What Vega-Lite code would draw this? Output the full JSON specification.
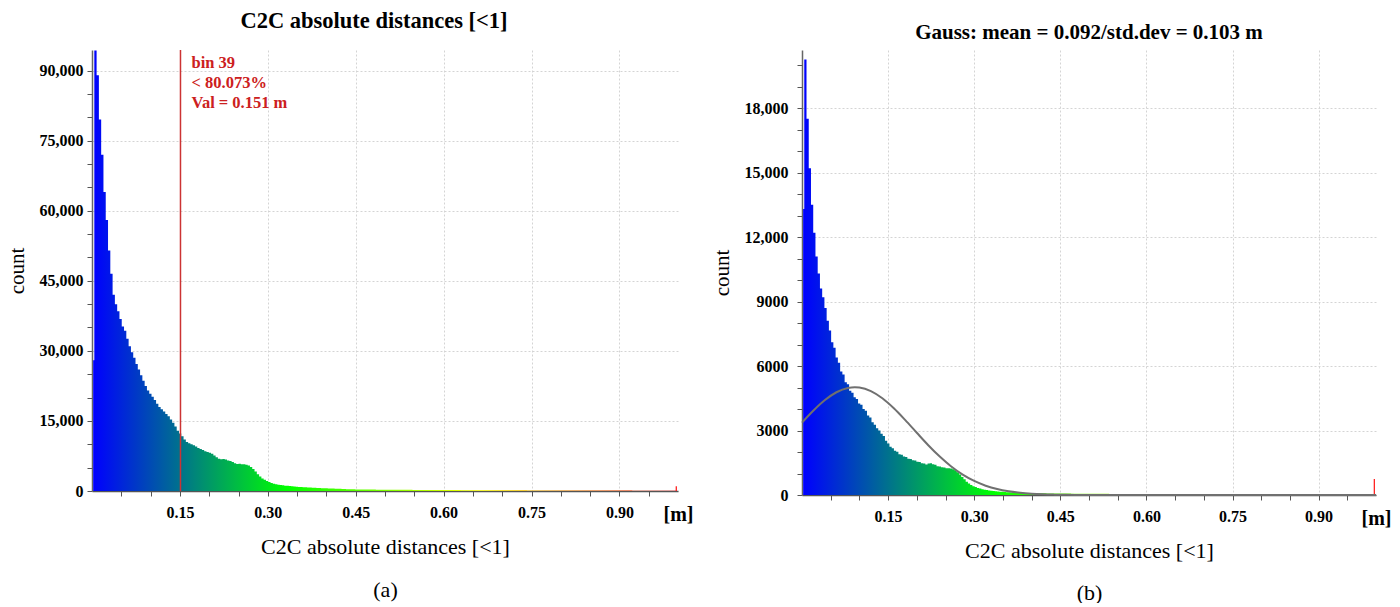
{
 "$schema": "https://vega.github.io/schema/vega-lite/v6.json",
 "background": "white",
 "padding": {"left": 6, "top": 9, "right": 5, "bottom": 0},
 "spacing": 18,
 "config": {
  "view": {"stroke": null},
  "axis": {"labelFont": "Liberation Serif", "titleFont": "Liberation Serif", "labelColor": "#000", "titleColor": "#000", "labelOverlap": false},
  "title": {"font": "Liberation Serif", "color": "#000"},
  "text": {"font": "Liberation Serif"}
 },
 "datasets": {
  "hist": [
   {"x":0.0020,"a":28000,"b":13300},{"x":0.0059,"a":94300,"b":20260},{"x":0.0098,"a":89000,"b":17500},{"x":0.0137,"a":79500,"b":15200},{"x":0.0176,"a":72000,"b":13500},{"x":0.0215,"a":64000,"b":12200},{"x":0.0254,"a":58000,"b":11100},{"x":0.0293,"a":51500,"b":10300},{"x":0.0332,"a":46500,"b":9600},{"x":0.0371,"a":42000,"b":9200},{"x":0.0410,"a":40000,"b":8700},{"x":0.0449,"a":38500,"b":8100},{"x":0.0488,"a":36800,"b":7650},{"x":0.0527,"a":35200,"b":7100},{"x":0.0566,"a":34300,"b":6850},{"x":0.0605,"a":32600,"b":6400},{"x":0.0645,"a":31000,"b":6150},{"x":0.0684,"a":29700,"b":5750},{"x":0.0723,"a":28500,"b":5600},{"x":0.0762,"a":27200,"b":5250},{"x":0.0801,"a":26000,"b":5150},{"x":0.0840,"a":24800,"b":4850},{"x":0.0879,"a":23600,"b":4760},{"x":0.0918,"a":22500,"b":4550},{"x":0.0957,"a":21500,"b":4460},{"x":0.0996,"a":20800,"b":4260},{"x":0.1035,"a":20200,"b":4200},{"x":0.1074,"a":19500,"b":4000},{"x":0.1113,"a":18700,"b":3920},{"x":0.1152,"a":18000,"b":3700},{"x":0.1191,"a":17500,"b":3600},{"x":0.1230,"a":17000,"b":3380},
   {"x":0.1270,"a":16500,"b":3270},{"x":0.1309,"a":16000,"b":3100},{"x":0.1348,"a":15300,"b":3000},{"x":0.1387,"a":14600,"b":2850},{"x":0.1426,"a":13800,"b":2740},{"x":0.1465,"a":12900,"b":2520},{"x":0.1504,"a":12300,"b":2400},{"x":0.1543,"a":11700,"b":2240},{"x":0.1582,"a":11000,"b":2180},{"x":0.1621,"a":10500,"b":2060},{"x":0.1660,"a":10200,"b":2010},{"x":0.1699,"a":10000,"b":1900},{"x":0.1738,"a":9800,"b":1870},{"x":0.1777,"a":9500,"b":1790},{"x":0.1816,"a":9200,"b":1770},{"x":0.1855,"a":9000,"b":1690},{"x":0.1895,"a":8800,"b":1670},{"x":0.1934,"a":8500,"b":1620},{"x":0.1973,"a":8350,"b":1600},{"x":0.2012,"a":8200,"b":1550},{"x":0.2051,"a":8000,"b":1530},{"x":0.2090,"a":7600,"b":1480},{"x":0.2129,"a":7200,"b":1470},{"x":0.2168,"a":6900,"b":1420},{"x":0.2207,"a":6800,"b":1460},{"x":0.2246,"a":6850,"b":1480},{"x":0.2285,"a":6750,"b":1430},{"x":0.2324,"a":6550,"b":1410},{"x":0.2363,"a":6400,"b":1340},{"x":0.2402,"a":6200,"b":1330},{"x":0.2441,"a":5950,"b":1290},{"x":0.2480,"a":5800,"b":1280},
   {"x":0.2520,"a":5850,"b":1250},{"x":0.2559,"a":5750,"b":1240},{"x":0.2598,"a":5700,"b":1230},{"x":0.2637,"a":5600,"b":1200},{"x":0.2676,"a":5450,"b":1150},{"x":0.2715,"a":5150,"b":1060},{"x":0.2754,"a":4700,"b":950},{"x":0.2793,"a":4200,"b":840},{"x":0.2832,"a":3600,"b":730},{"x":0.2871,"a":3100,"b":620},{"x":0.2910,"a":2700,"b":540},{"x":0.2949,"a":2400,"b":470},{"x":0.2988,"a":2150,"b":410},{"x":0.3027,"a":1900,"b":370},{"x":0.3066,"a":1700,"b":330},{"x":0.3105,"a":1550,"b":300},{"x":0.3145,"a":1430,"b":270},{"x":0.3184,"a":1350,"b":250},{"x":0.3223,"a":1280,"b":230},{"x":0.3262,"a":1220,"b":215},{"x":0.3301,"a":1150,"b":200},{"x":0.3340,"a":1100,"b":185},{"x":0.3379,"a":1050,"b":175},{"x":0.3418,"a":1000,"b":165},{"x":0.3457,"a":960,"b":155},{"x":0.3496,"a":920,"b":146},{"x":0.3535,"a":880,"b":138},{"x":0.3574,"a":850,"b":130},{"x":0.3613,"a":820,"b":124},{"x":0.3652,"a":790,"b":118},{"x":0.3691,"a":760,"b":113},{"x":0.3730,"a":730,"b":108},
   {"x":0.3770,"a":700,"b":103},{"x":0.3809,"a":670,"b":99},{"x":0.3848,"a":650,"b":95},{"x":0.3887,"a":630,"b":92},{"x":0.3926,"a":610,"b":90},{"x":0.3965,"a":590,"b":88},{"x":0.4004,"a":570,"b":86},{"x":0.4043,"a":550,"b":84},{"x":0.4082,"a":530,"b":82},{"x":0.4121,"a":515,"b":80},{"x":0.4160,"a":500,"b":79},{"x":0.4199,"a":480,"b":78},{"x":0.4238,"a":460,"b":76},{"x":0.4277,"a":440,"b":75},{"x":0.4316,"a":420,"b":74},{"x":0.4355,"a":400,"b":72},{"x":0.4395,"a":380,"b":71},{"x":0.4434,"a":360,"b":70},{"x":0.4473,"a":350,"b":69},{"x":0.4512,"a":340,"b":68},{"x":0.4551,"a":335,"b":67},{"x":0.4590,"a":330,"b":66},{"x":0.4629,"a":322,"b":65},{"x":0.4668,"a":315,"b":64},{"x":0.4707,"a":310,"b":63},{"x":0.4746,"a":305,"b":62},{"x":0.4785,"a":300,"b":61},{"x":0.4824,"a":296,"b":60},{"x":0.4863,"a":292,"b":60},{"x":0.4902,"a":288,"b":59},{"x":0.4941,"a":284,"b":58},{"x":0.4980,"a":280,"b":57},
   {"x":0.5020,"a":276,"b":57},{"x":0.5059,"a":273,"b":56},{"x":0.5098,"a":270,"b":56},{"x":0.5137,"a":266,"b":55},{"x":0.5176,"a":263,"b":55},{"x":0.5215,"a":260,"b":54},{"x":0.5254,"a":257,"b":54},{"x":0.5293,"a":254,"b":53},{"x":0.5332,"a":251,"b":53},{"x":0.5371,"a":248,"b":52},{"x":0.5410,"a":245,"b":52},{"x":0.5449,"a":242,"b":51},{"x":0.5488,"a":239,"b":51},{"x":0.5527,"a":236,"b":50},{"x":0.5566,"a":233,"b":50},{"x":0.5605,"a":230,"b":49},{"x":0.5645,"a":228,"b":49},{"x":0.5684,"a":225,"b":48},{"x":0.5723,"a":222,"b":48},{"x":0.5762,"a":220,"b":47},{"x":0.5801,"a":217,"b":47},{"x":0.5840,"a":214,"b":46},{"x":0.5879,"a":212,"b":46},{"x":0.5918,"a":209,"b":45},{"x":0.5957,"a":207,"b":45},{"x":0.5996,"a":204,"b":44},{"x":0.6035,"a":202,"b":44},{"x":0.6074,"a":199,"b":44},{"x":0.6113,"a":197,"b":43},{"x":0.6152,"a":195,"b":43},{"x":0.6191,"a":192,"b":42},{"x":0.6230,"a":190,"b":42},
   {"x":0.6270,"a":188,"b":42},{"x":0.6309,"a":186,"b":41},{"x":0.6348,"a":184,"b":41},{"x":0.6387,"a":182,"b":40},{"x":0.6426,"a":180,"b":40},{"x":0.6465,"a":178,"b":40},{"x":0.6504,"a":176,"b":39},{"x":0.6543,"a":174,"b":39},{"x":0.6582,"a":172,"b":38},{"x":0.6621,"a":170,"b":38},{"x":0.6660,"a":168,"b":38},{"x":0.6699,"a":166,"b":37},{"x":0.6738,"a":164,"b":37},{"x":0.6777,"a":162,"b":36},{"x":0.6816,"a":160,"b":36},{"x":0.6855,"a":158,"b":36},{"x":0.6895,"a":156,"b":35},{"x":0.6934,"a":154,"b":35},{"x":0.6973,"a":152,"b":35},{"x":0.7012,"a":150,"b":34},{"x":0.7051,"a":149,"b":34},{"x":0.7090,"a":147,"b":34},{"x":0.7129,"a":146,"b":33},{"x":0.7168,"a":144,"b":33},{"x":0.7207,"a":142,"b":33},{"x":0.7246,"a":141,"b":32},{"x":0.7285,"a":139,"b":32},{"x":0.7324,"a":138,"b":32},{"x":0.7363,"a":136,"b":31},{"x":0.7402,"a":135,"b":31},{"x":0.7441,"a":133,"b":31},{"x":0.7480,"a":132,"b":30},
   {"x":0.7520,"a":130,"b":30},{"x":0.7559,"a":129,"b":30},{"x":0.7598,"a":128,"b":30},{"x":0.7637,"a":126,"b":29},{"x":0.7676,"a":125,"b":29},{"x":0.7715,"a":124,"b":29},{"x":0.7754,"a":122,"b":28},{"x":0.7793,"a":121,"b":28},{"x":0.7832,"a":120,"b":28},{"x":0.7871,"a":118,"b":28},{"x":0.7910,"a":117,"b":27},{"x":0.7949,"a":116,"b":27},{"x":0.7988,"a":115,"b":27},{"x":0.8027,"a":113,"b":27},{"x":0.8066,"a":112,"b":26},{"x":0.8105,"a":111,"b":26},{"x":0.8145,"a":110,"b":26},{"x":0.8184,"a":108,"b":26},{"x":0.8223,"a":107,"b":25},{"x":0.8262,"a":106,"b":25},{"x":0.8301,"a":105,"b":25},{"x":0.8340,"a":104,"b":25},{"x":0.8379,"a":103,"b":24},{"x":0.8418,"a":102,"b":24},{"x":0.8457,"a":100,"b":24},{"x":0.8496,"a":99,"b":24},{"x":0.8535,"a":98,"b":23},{"x":0.8574,"a":97,"b":23},{"x":0.8613,"a":96,"b":23},{"x":0.8652,"a":95,"b":23},{"x":0.8691,"a":94,"b":22},{"x":0.8730,"a":93,"b":22},
   {"x":0.8770,"a":92,"b":22},{"x":0.8809,"a":91,"b":22},{"x":0.8848,"a":90,"b":22},{"x":0.8887,"a":89,"b":21},{"x":0.8926,"a":88,"b":21},{"x":0.8965,"a":87,"b":21},{"x":0.9004,"a":86,"b":21},{"x":0.9043,"a":85,"b":21},{"x":0.9082,"a":84,"b":20},{"x":0.9121,"a":83,"b":20},{"x":0.9160,"a":82,"b":20},{"x":0.9199,"a":81,"b":20},{"x":0.9238,"a":80,"b":20},{"x":0.9277,"a":79,"b":19},{"x":0.9316,"a":78,"b":19},{"x":0.9355,"a":77,"b":19},{"x":0.9395,"a":76,"b":19},{"x":0.9434,"a":75,"b":19},{"x":0.9473,"a":74,"b":18},{"x":0.9512,"a":73,"b":18},{"x":0.9551,"a":72,"b":18},{"x":0.9590,"a":71,"b":18},{"x":0.9629,"a":70,"b":18},{"x":0.9668,"a":69,"b":17},{"x":0.9707,"a":68,"b":17},{"x":0.9746,"a":67,"b":17},{"x":0.9785,"a":66,"b":17},{"x":0.9824,"a":65,"b":17},{"x":0.9863,"a":64,"b":16},{"x":0.9902,"a":63,"b":16},{"x":0.9941,"a":62,"b":16},{"x":0.9980,"a":1000,"b":750}
  ],
  "gauss": [
   {"x":0,"y":3366},{"x":0.02,"y":3929},{"x":0.04,"y":4416},{"x":0.06,"y":4780},{"x":0.08,"y":4982},{"x":0.092,"y":5016},{"x":0.10,"y":5001},{"x":0.12,"y":4834},{"x":0.14,"y":4500},{"x":0.16,"y":4034},{"x":0.18,"y":3482},{"x":0.20,"y":2895},{"x":0.22,"y":2317},{"x":0.24,"y":1787},{"x":0.26,"y":1326},{"x":0.28,"y":948},{"x":0.30,"y":653},{"x":0.32,"y":433},{"x":0.34,"y":276},{"x":0.36,"y":170},{"x":0.38,"y":101},{"x":0.40,"y":57},{"x":0.42,"y":31},{"x":0.44,"y":17},{"x":0.46,"y":8},{"x":0.50,"y":2},{"x":0.55,"y":0},{"x":0.6,"y":0},{"x":0.8,"y":0},{"x":1.0,"y":0}
  ],
  "marker": [{"x":0.151}],
  "labels": [
   {"x":0.151,"y":91600,"t":"bin 39"},
   {"x":0.151,"y":87300,"t":"< 80.073%"},
   {"x":0.151,"y":83000,"t":"Val = 0.151 m"}
  ]
 },
 "hconcat": [
  {
   "width": 586,
   "height": 441,
   "title": {"text": "C2C absolute distances [<1]", "fontSize": 22.5, "fontWeight": "bold", "baseline": "middle", "offset": 6, "dx": -11},
   "resolve": {"scale": {"x": "independent", "y": "independent"}},
   "layer": [
    {
     "layer": [
      {
       "data": {"name": "hist"},
       "mark": {"type": "area", "interpolate": "step",
        "fill": {"gradient": "linear", "x1": 0, "x2": 1, "y1": 0, "y2": 0, "stops": [{"offset": 0, "color": "#0000ff"}, {"offset": 0.333, "color": "#00ff00"}, {"offset": 0.667, "color": "#ffff00"}, {"offset": 1, "color": "#ff0000"}]}},
       "encoding": {
        "x": {"field": "x", "type": "quantitative", "scale": {"domain": [0, 1], "nice": false, "zero": false},
         "axis": {
          "orient": "bottom",
          "values": [0.15, 0.3, 0.45, 0.6, 0.75, 0.9, 1],
          "labelExpr": "datum.value > 0.99 ? '[m]' : format(datum.value, '.2f')",
          "labelFlush": false, "labelOverlap": false, "labelBound": false,
          "labelFontSize": {"condition": {"test": "datum.value > 0.99", "value": 20}, "value": 16},
          "labelFontWeight": "bold", "labelPadding": 8,
          "tickSize": 5, "tickColor": "#555", "domainColor": "#555", "domainWidth": 1.5,
          "tickOpacity": {"condition": {"test": "datum.value > 0.99", "value": 0}, "value": 1},
          "grid": true, "gridColor": "#d4d4d4", "gridDash": [2, 2],
          "gridOpacity": {"condition": {"test": "datum.value > 0.99", "value": 0}, "value": 1},
          "title": ["C2C absolute distances [<1]", "(a)"], "titleFontSize": 22, "titleFontWeight": "normal", "titlePadding": 12, "titleLineHeight": 43
         }
        },
        "y": {"field": "a", "type": "quantitative", "scale": {"domain": [0, 94400], "nice": false},
         "axis": {
          "orient": "left",
          "values": [0, 15000, 30000, 45000, 60000, 75000, 90000],
          "labelExpr": "format(datum.value, ',')",
          "labelOverlap": false,
          "labelFontSize": 16, "labelFontWeight": "bold", "labelPadding": 4,
          "tickSize": 5, "tickColor": "#555", "domainColor": "#666", "domainWidth": 1.5,
          "grid": true, "gridColor": "#d4d4d4", "gridDash": [2, 2],
          "title": "count", "titleFontSize": 21, "titleFontWeight": "normal", "titlePadding": 12
         }
        }
       }
      },
      {
       "data": {"name": "marker"},
       "mark": {"type": "rule", "color": "#cc3333", "strokeWidth": 1.5},
       "encoding": {"x": {"field": "x", "type": "quantitative"}}
      },
      {
       "data": {"name": "labels"},
       "mark": {"type": "text", "align": "left", "baseline": "middle", "dx": 11, "fontSize": 16.5, "fontWeight": "bold", "color": "#cc2020"},
       "encoding": {
        "x": {"field": "x", "type": "quantitative"},
        "y": {"field": "y", "type": "quantitative"},
        "text": {"field": "t"}
       }
      }
     ]
    },
    {
     "data": {"name": "labels"},
     "mark": {"type": "point", "opacity": 0},
     "encoding": {
      "x": {"field": "x", "type": "quantitative", "scale": {"domain": [0, 1], "nice": false, "zero": false},
       "axis": {"orient": "bottom", "values": [0.05, 0.1, 0.2, 0.25, 0.35, 0.4, 0.5, 0.55, 0.65, 0.7, 0.8, 0.85, 0.95], "labels": false, "grid": false, "domain": false, "tickSize": 5, "tickColor": "#555", "title": null}},
      "y": {"field": "y", "type": "quantitative", "scale": {"domain": [0, 94400], "nice": false},
       "axis": {"orient": "left", "values": [5000, 10000, 20000, 25000, 35000, 40000, 50000, 55000, 65000, 70000, 80000, 85000], "labels": false, "grid": false, "domain": false, "tickSize": 5, "tickColor": "#555", "title": null}}
     }
    }
   ]
  },
  {
   "width": 574,
   "height": 445,
   "title": {"text": "Gauss: mean = 0.092/std.dev = 0.103 m", "fontSize": 21, "fontWeight": "bold", "baseline": "middle", "offset": -4},
   "resolve": {"scale": {"x": "independent", "y": "independent"}},
   "layer": [
    {
     "layer": [
      {
       "data": {"name": "hist"},
       "mark": {"type": "area", "interpolate": "step",
        "fill": {"gradient": "linear", "x1": 0, "x2": 1, "y1": 0, "y2": 0, "stops": [{"offset": 0, "color": "#0000ff"}, {"offset": 0.333, "color": "#00ff00"}, {"offset": 0.667, "color": "#ffff00"}, {"offset": 1, "color": "#ff0000"}]}},
       "encoding": {
        "x": {"field": "x", "type": "quantitative", "scale": {"domain": [0, 1], "nice": false, "zero": false},
         "axis": {
          "orient": "bottom",
          "values": [0.15, 0.3, 0.45, 0.6, 0.75, 0.9, 1],
          "labelExpr": "datum.value > 0.99 ? '[m]' : format(datum.value, '.2f')",
          "labelFlush": false, "labelOverlap": false, "labelBound": false,
          "labelFontSize": {"condition": {"test": "datum.value > 0.99", "value": 20}, "value": 16},
          "labelFontWeight": "bold", "labelPadding": 8,
          "tickSize": 5, "tickColor": "#555", "domainColor": "#555", "domainWidth": 1.5,
          "tickOpacity": {"condition": {"test": "datum.value > 0.99", "value": 0}, "value": 1},
          "grid": true, "gridColor": "#d4d4d4", "gridDash": [2, 2],
          "gridOpacity": {"condition": {"test": "datum.value > 0.99", "value": 0}, "value": 1},
          "title": ["C2C absolute distances [<1]", "(b)"], "titleFontSize": 22, "titleFontWeight": "normal", "titlePadding": 12, "titleLineHeight": 42
         }
        },
        "y": {"field": "b", "type": "quantitative", "scale": {"domain": [0, 20700], "nice": false},
         "axis": {
          "orient": "left",
          "values": [0, 3000, 6000, 9000, 12000, 15000, 18000],
          "labelExpr": "datum.value >= 10000 ? format(datum.value, ',') : format(datum.value, 'd')",
          "labelOverlap": false,
          "labelFontSize": 16, "labelFontWeight": "bold", "labelPadding": 9,
          "tickSize": 5, "tickColor": "#555", "domainColor": "#666", "domainWidth": 1.5,
          "grid": true, "gridColor": "#d4d4d4", "gridDash": [2, 2],
          "title": "count", "titleFontSize": 21, "titleFontWeight": "normal", "titlePadding": 12
         }
        }
       }
      },
      {
       "data": {"name": "gauss"},
       "mark": {"type": "line", "color": "#707070", "strokeWidth": 2, "interpolate": "monotone"},
       "encoding": {
        "x": {"field": "x", "type": "quantitative"},
        "y": {"field": "y", "type": "quantitative"}
       }
      }
     ]
    },
    {
     "data": {"name": "gauss"},
     "mark": {"type": "point", "opacity": 0},
     "encoding": {
      "x": {"field": "x", "type": "quantitative", "scale": {"domain": [0, 1], "nice": false, "zero": false},
       "axis": {"orient": "bottom", "values": [0.05, 0.1, 0.2, 0.25, 0.35, 0.4, 0.5, 0.55, 0.65, 0.7, 0.8, 0.85, 0.95], "labels": false, "grid": false, "domain": false, "tickSize": 5, "tickColor": "#555", "title": null}},
      "y": {"field": "y", "type": "quantitative", "scale": {"domain": [0, 20700], "nice": false},
       "axis": {"orient": "left", "values": [1000, 2000, 4000, 5000, 7000, 8000, 10000, 11000, 13000, 14000, 16000, 17000, 19000, 20000], "labels": false, "grid": false, "domain": false, "tickSize": 5, "tickColor": "#555", "title": null}}
     }
    }
   ]
  }
 ]
}
